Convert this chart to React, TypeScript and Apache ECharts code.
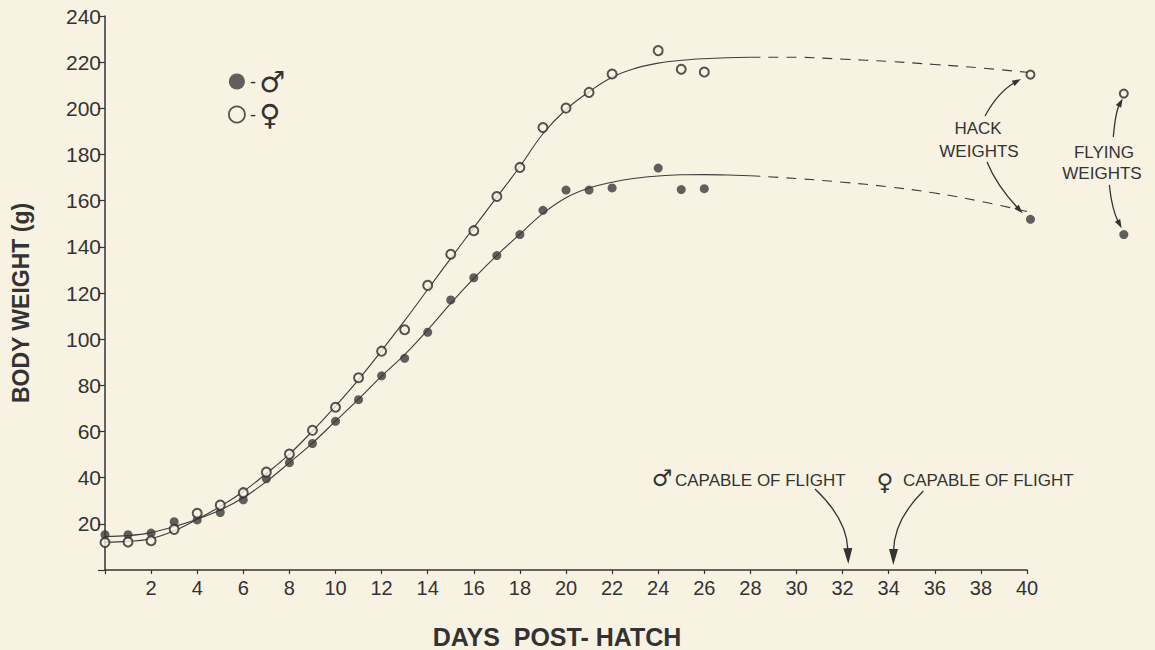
import React, { useEffect, useRef } from "react";
import * as echarts from "echarts";

const obsDays = [0, 1, 2, 3, 4, 5, 6, 7, 8, 9, 10, 11, 12, 13, 14, 15, 16, 17, 18, 19, 20, 21, 22, 24, 25, 26];
const maleWeights = [15.3, 15.3, 16.0, 20.9, 21.7, 24.9, 30.4, 39.5, 46.5, 54.8, 64.4, 73.8, 84.1, 91.7, 103.0, 117.0, 126.6, 136.2, 145.3, 155.8, 164.6, 164.6, 165.5, 174.1, 164.8, 165.2];
const femaleWeights = [11.9, 12.1, 12.7, 17.6, 24.6, 28.1, 33.5, 42.4, 50.2, 60.5, 70.5, 83.3, 94.8, 104.1, 123.3, 136.8, 147.0, 161.8, 174.4, 191.7, 200.1, 206.9, 214.9, 225.0, 216.9, 215.7];

// hack weights (plotted at day 40) and flying weights (plotted to the right)
const hackDay = 40.15;
const maleHack = 151.9;
const femaleHack = 214.6;
const flyingDay = 44.2;
const maleFlying = 145.3;
const femaleFlying = 206.4;

// ---- fitted growth curves ----
const fitDays = [0, 1, 2, 3, 4, 5, 6, 7, 8, 9, 10, 11, 12, 13, 14, 15, 16, 17, 18, 19, 20, 21, 22, 23, 24, 25, 26, 27, 28];
const femaleFit = [12.0, 12.4, 13.6, 17.0, 22.0, 27.5, 34.0, 41.8, 50.2, 60.2, 71.0, 82.5, 95.0, 108.0, 121.5, 135.0, 148.3, 161.5, 174.8, 189.0, 199.5, 207.2, 213.5, 217.3, 219.6, 220.8, 221.5, 221.9, 222.1];
const maleFit = [14.5, 14.9, 16.2, 18.8, 22.0, 26.0, 31.3, 38.3, 46.5, 55.0, 64.5, 74.0, 84.0, 93.3, 104.0, 115.5, 126.3, 136.3, 145.5, 154.5, 161.3, 165.5, 168.0, 169.7, 170.7, 171.2, 171.3, 171.1, 170.8];

// dashed extrapolation to hack weights
const extDays = [28, 30, 32, 34, 36, 38, 40];
const femaleExt = [222.1, 222.1, 221.3, 220.3, 219.0, 217.5, 215.6];
const maleExt = [170.8, 169.6, 168.0, 166.0, 163.3, 159.7, 155.3];

const BG = "#f8f2e2";
const INK = "#333333";
const FONT = "Liberation Sans, Arial, sans-serif";
const SYM = "DejaVu Sans, sans-serif";

const zip = (xs: number[], ys: number[]) => xs.map((x, i) => [x, ys[i]]);

function arrowHead(tx: number, ty: number, fx: number, fy: number, len: number, hw: number) {
  const dx = tx - fx;
  const dy = ty - fy;
  const d = Math.sqrt(dx * dx + dy * dy) || 1;
  const ux = dx / d;
  const uy = dy / d;
  const bx = tx - ux * len;
  const by = ty - uy * len;
  return {
    type: "polygon",
    shape: {
      points: [
        [tx, ty],
        [bx - uy * hw, by + ux * hw],
        [bx + uy * hw, by - ux * hw],
      ],
    },
    style: { fill: INK },
    silent: true,
  };
}

function curvedArrow(sx: number, sy: number, cx: number, cy: number, tx: number, ty: number, len: number, hw: number) {
  const dx = tx - cx;
  const dy = ty - cy;
  const d = Math.sqrt(dx * dx + dy * dy) || 1;
  const ex = tx - (dx / d) * (len - 2);
  const ey = ty - (dy / d) * (len - 2);
  return [
    {
      type: "bezierCurve",
      shape: { x1: sx, y1: sy, x2: ex, y2: ey, cpx1: cx, cpy1: cy },
      style: { stroke: INK, lineWidth: 1.3, fill: "none" },
      silent: true,
    },
    arrowHead(tx, ty, cx, cy, len, hw),
  ];
}

function txt(text: string, x: number, y: number, size: number, family = FONT, align = "center") {
  return {
    type: "text",
    x,
    y,
    silent: true,
    style: {
      text,
      fill: INK,
      fontSize: size,
      fontFamily: family,
      align,
      verticalAlign: "middle",
      textAlign: align,
      textVerticalAlign: "middle",
    },
  };
}

export default function App() {
  const ref = useRef<HTMLDivElement>(null);

  useEffect(() => {
    document.body.style.margin = "0";
    if (!ref.current) return;
    const chart = echarts.init(ref.current, undefined, { renderer: "svg" });

    const openStyle = { color: BG, borderColor: "#2a2a2a", borderWidth: 2 };
    const filledStyle = { color: "#3a3a3a" };

    chart.setOption({
      animation: false,
      backgroundColor: BG,
      grid: { left: 105, right: 128, top: 16, bottom: 80, containLabel: false, outerBoundsMode: "none" },
      legend: {
        orient: "vertical",
        left: 228,
        top: 67,
        padding: 0,
        itemWidth: 16,
        itemHeight: 16,
        itemGap: 4,
        icon: "circle",
        selectedMode: false,
        data: [
          { name: "♂", itemStyle: { color: "#3a3a3a", borderWidth: 0 } },
          { name: "♀", itemStyle: { color: BG, borderColor: "#2a2a2a", borderWidth: 1.8 } },
        ],
        formatter: (n: string) => `{d|-} {s|${n}}`,
        textStyle: {
          color: INK,
          rich: {
            d: { fontSize: 18, fontFamily: FONT, color: INK },
            s: { fontSize: 29, fontFamily: SYM, color: INK },
          },
        },
      },
      xAxis: {
        type: "value",
        min: 0,
        max: 40,
        interval: 2,
        name: "DAYS\u00a0\u00a0POST-\u00a0HATCH",
        nameLocation: "middle",
        nameGap: 54,
        nameTextStyle: { fontSize: 25, fontWeight: "bold", fontFamily: FONT, color: INK, padding: [0, 18, 0, 0] },
        axisLine: { show: true, lineStyle: { color: INK, width: 1.5 } },
        axisTick: { show: true, length: 4, lineStyle: { color: INK, width: 1.2 } },
        axisLabel: {
          fontSize: 20,
          fontFamily: FONT,
          color: INK,
          margin: 8,
          formatter: (v: number) => (v === 0 ? "" : String(v)),
        },
        splitLine: { show: false },
      },
      yAxis: {
        type: "value",
        min: 0,
        max: 240,
        interval: 20,
        name: "BODY WEIGHT (g)",
        nameLocation: "middle",
        nameGap: 73,
        nameRotate: 90,
        nameTextStyle: { fontSize: 23, fontWeight: "bold", fontFamily: FONT, color: INK, padding: [0, 20, 0, 0] },
        axisLine: { show: true, lineStyle: { color: INK, width: 1.5 } },
        axisTick: { show: true, length: 7, lineStyle: { color: INK, width: 1.2 } },
        axisLabel: {
          fontSize: 21,
          fontFamily: FONT,
          color: INK,
          margin: 4,
          formatter: (v: number) => (v === 0 ? "" : String(v)),
        },
        splitLine: { show: false },
      },
      series: [
        {
          name: "female fit",
          type: "line",
          smooth: 0.4,
          showSymbol: false,
          data: zip(fitDays, femaleFit),
          lineStyle: { color: "#3c3c3c", width: 1.1 },
          z: 1,
          silent: true,
        },
        {
          name: "male fit",
          type: "line",
          smooth: 0.4,
          showSymbol: false,
          data: zip(fitDays, maleFit),
          lineStyle: { color: "#3c3c3c", width: 1.1 },
          z: 1,
          silent: true,
        },
        {
          name: "female ext",
          type: "line",
          smooth: 0.4,
          showSymbol: false,
          data: zip(extDays, femaleExt),
          lineStyle: { color: "#3c3c3c", width: 1.1, type: [10, 8] },
          z: 1,
          silent: true,
        },
        {
          name: "male ext",
          type: "line",
          smooth: 0.4,
          showSymbol: false,
          data: zip(extDays, maleExt),
          lineStyle: { color: "#3c3c3c", width: 1.1, type: [10, 8] },
          z: 1,
          silent: true,
        },
        {
          name: "♂",
          type: "scatter",
          symbol: "circle",
          symbolSize: 9,
          data: zip(obsDays, maleWeights),
          itemStyle: filledStyle,
          z: 3,
        },
        {
          name: "♀",
          type: "scatter",
          symbol: "circle",
          symbolSize: 9,
          data: zip(obsDays, femaleWeights),
          itemStyle: openStyle,
          z: 3,
        },
        {
          name: "male hack/flying",
          type: "scatter",
          symbol: "circle",
          symbolSize: 9,
          clip: false,
          data: [
            [hackDay, maleHack],
            [flyingDay, maleFlying],
          ],
          itemStyle: filledStyle,
          z: 3,
        },
        {
          name: "female hack/flying",
          type: "scatter",
          symbol: "circle",
          symbolSize: 8,
          clip: false,
          data: [
            [hackDay, femaleHack],
            [flyingDay, femaleFlying],
          ],
          itemStyle: openStyle,
          z: 3,
        },
      ],
      graphic: [
        // hack weights
        txt("HACK", 978, 128, 17),
        txt("WEIGHTS", 979, 151, 17),
        ...curvedArrow(985, 116, 998, 92, 1021, 79, 9, 3),
        ...curvedArrow(987, 162, 996.6, 185.4, 1022.7, 213.3, 9, 3),
        // flying weights
        txt("FLYING", 1104, 152, 17),
        txt("WEIGHTS", 1102, 173.5, 17),
        ...curvedArrow(1113.3, 137, 1115.5, 112, 1122.7, 98.5, 9, 3),
        ...curvedArrow(1109.3, 185, 1112, 210, 1121.7, 228.3, 9, 3),
        // capable of flight
        txt("♂", 662, 478, 23, SYM),
        txt("CAPABLE OF FLIGHT", 675, 480, 17, FONT, "left"),
        txt("♀", 885, 482, 23, SYM),
        txt("CAPABLE OF FLIGHT", 903, 480, 17, FONT, "left"),
        ...curvedArrow(815, 489, 847, 519, 848.3, 564, 16, 4.5),
        ...curvedArrow(923.3, 491, 894, 520, 893.3, 565, 16, 4.5),
      ],
    });

    return () => chart.dispose();
  }, []);

  return <div ref={ref} style={{ width: 1155, height: 650, background: BG }} />;
}
